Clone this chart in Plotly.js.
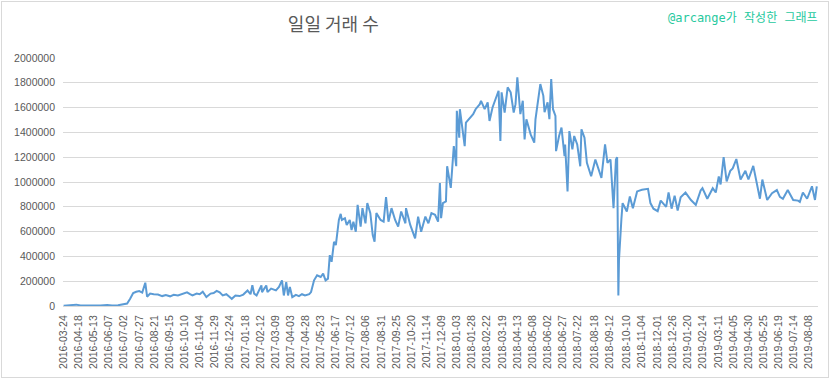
<!DOCTYPE html>
<html>
<head>
<meta charset="utf-8">
<script src="https://cdn.plot.ly/plotly-3.0.1.min.js"></script>
<style>
  html, body { margin: 0; padding: 0; background: #ffffff; }
  #wrap { position: relative; width: 833px; height: 379px; }
  #chart { position: absolute; left: 0; top: 0; width: 833px; height: 379px; }
  #frame { position: absolute; left: 1px; top: 1px; width: 826px; height: 375px; border: 1px solid #d9d9d9; pointer-events: none; }
</style>
</head>
<body>
<div id="wrap"><div id="chart"></div><div id="frame"></div></div>
<script>
// ---- Data ----
const chartTitle = "일일 거래 수";
const creditText = "@arcange가 작성한 그래프";

const tickLabels = [
  "2016-03-24","2016-04-18","2016-05-13","2016-06-07","2016-07-02","2016-07-27","2016-08-21","2016-09-15",
  "2016-10-10","2016-11-04","2016-11-29","2016-12-24","2017-01-18","2017-02-12","2017-03-09","2017-04-03",
  "2017-04-28","2017-05-23","2017-06-17","2017-07-12","2017-08-06","2017-08-31","2017-09-25","2017-10-20",
  "2017-11-14","2017-12-09","2018-01-03","2018-01-28","2018-02-22","2018-03-19","2018-04-13","2018-05-08",
  "2018-06-02","2018-06-27","2018-07-22","2018-08-18","2018-09-12","2018-10-10","2018-11-04","2018-12-01",
  "2018-12-26","2019-01-20","2019-02-14","2019-03-11","2019-04-05","2019-04-30","2019-05-25","2019-06-19",
  "2019-07-14","2019-08-08"
];

const yTicks = [0,200000,400000,600000,800000,1000000,1200000,1400000,1600000,1800000,2000000];

const dates = [
  "2016-03-24","2016-04-01","2016-04-08","2016-04-14","2016-04-21","2016-05-07","2016-05-24","2016-06-04",
  "2016-06-12","2016-06-22","2016-06-30","2016-07-07","2016-07-12","2016-07-17","2016-07-22","2016-07-27",
  "2016-08-01","2016-08-06","2016-08-09","2016-08-14","2016-08-20","2016-08-27","2016-09-03","2016-09-09",
  "2016-09-16","2016-09-22","2016-09-29","2016-10-05","2016-10-14","2016-10-19","2016-10-23","2016-10-30",
  "2016-11-04","2016-11-09","2016-11-15","2016-11-22","2016-11-27","2016-12-02","2016-12-07","2016-12-12",
  "2016-12-18","2016-12-23","2016-12-27","2017-01-02","2017-01-09","2017-01-15","2017-01-22","2017-01-27",
  "2017-01-30","2017-02-02","2017-02-06","2017-02-14","2017-02-15","2017-02-22","2017-02-24","2017-03-02",
  "2017-03-10","2017-03-15","2017-03-20","2017-03-23","2017-03-27","2017-03-30","2017-04-02","2017-04-06",
  "2017-04-12","2017-04-17","2017-04-22","2017-04-27","2017-05-04","2017-05-07","2017-05-12","2017-05-17",
  "2017-05-23","2017-05-27","2017-05-31","2017-06-04","2017-06-07","2017-06-10","2017-06-14","2017-06-17",
  "2017-06-19","2017-06-22","2017-06-25","2017-06-27","2017-07-02","2017-07-05","2017-07-10","2017-07-13",
  "2017-07-16","2017-07-20","2017-07-23","2017-07-28","2017-07-31","2017-08-05","2017-08-08","2017-08-13",
  "2017-08-17","2017-08-20","2017-08-23","2017-08-30","2017-09-04","2017-09-08","2017-09-12","2017-09-17",
  "2017-09-23","2017-09-28","2017-10-03","2017-10-10","2017-10-11","2017-10-18","2017-10-26","2017-10-31",
  "2017-11-05","2017-11-12","2017-11-17","2017-11-22","2017-11-28","2017-12-03","2017-12-06","2017-12-08",
  "2017-12-11","2017-12-16","2017-12-18","2017-12-23","2017-12-24","2017-12-29","2018-01-02","2018-01-03",
  "2018-01-07","2018-01-08","2018-01-13","2018-01-16","2018-01-18","2018-01-25","2018-01-30","2018-02-03",
  "2018-02-10","2018-02-12","2018-02-18","2018-02-23","2018-02-26","2018-03-03","2018-03-08","2018-03-13",
  "2018-03-16","2018-03-18","2018-03-23","2018-03-28","2018-04-02","2018-04-07","2018-04-10","2018-04-13",
  "2018-04-18","2018-04-22","2018-04-25","2018-04-28","2018-05-05","2018-05-11","2018-05-13","2018-05-20",
  "2018-05-21","2018-05-26","2018-05-28","2018-06-02","2018-06-05","2018-06-08","2018-06-11","2018-06-15",
  "2018-06-16","2018-06-21","2018-06-25","2018-06-30","2018-07-01","2018-07-05","2018-07-08","2018-07-13",
  "2018-07-16","2018-07-21","2018-07-26","2018-07-28","2018-08-02","2018-08-06","2018-08-13","2018-08-20",
  "2018-08-25","2018-08-30","2018-09-05","2018-09-09","2018-09-14","2018-09-16","2018-09-19","2018-09-23",
  "2018-09-25","2018-09-27","2018-09-28","2018-10-02","2018-10-04","2018-10-11","2018-10-16","2018-10-21",
  "2018-10-28","2018-11-05","2018-11-15","2018-11-19","2018-11-24","2018-12-01","2018-12-06","2018-12-15",
  "2018-12-19","2018-12-24","2018-12-29","2019-01-03","2019-01-08","2019-01-16","2019-01-25","2019-02-02",
  "2019-02-10","2019-02-13","2019-02-21","2019-03-02","2019-03-07","2019-03-12","2019-03-15","2019-03-20",
  "2019-03-25","2019-03-31","2019-04-04","2019-04-10","2019-04-17","2019-04-25","2019-04-30","2019-05-08",
  "2019-05-15","2019-05-19","2019-05-23","2019-05-31","2019-06-08","2019-06-16","2019-06-21","2019-06-26",
  "2019-07-04","2019-07-13","2019-07-21","2019-07-24","2019-07-29","2019-08-05","2019-08-13","2019-08-18",
  "2019-08-21"
];

const counts = [
  3000,6000,12000,11000,4000,3000,4000,8000,
  4000,6000,12000,20000,58000,104000,115000,120000,
  108000,188000,75000,100000,95000,92000,80000,88000,
  78000,90000,85000,95000,110000,95000,85000,100000,
  95000,115000,72000,100000,105000,122000,110000,85000,
  95000,75000,58000,85000,80000,92000,125000,95000,
  168000,100000,85000,166000,112000,166000,112000,140000,
  126000,153000,207000,85000,193000,85000,153000,71000,
  90000,80000,95000,85000,95000,112000,207000,248000,
  234000,261000,207000,221000,410000,356000,518000,491000,
  572000,694000,743000,694000,708000,654000,694000,613000,
  680000,599000,816000,640000,789000,667000,830000,749000,
  572000,518000,749000,694000,680000,878000,680000,789000,
  694000,640000,762000,667000,789000,654000,546000,721000,
  599000,721000,667000,749000,735000,680000,992000,708000,
  830000,843000,1127000,992000,952000,1289000,1127000,1574000,
  1358000,1587000,1371000,1289000,1479000,1520000,1547000,1587000,
  1628000,1655000,1587000,1642000,1492000,1601000,1669000,1736000,
  1330000,1723000,1560000,1763000,1723000,1560000,1628000,1845000,
  1547000,1655000,1344000,1506000,1384000,1317000,1506000,1750000,
  1790000,1695000,1563000,1642000,1506000,1831000,1587000,1533000,
  1249000,1371000,1439000,1208000,1303000,924000,1411000,1263000,
  1371000,1303000,1127000,1425000,1358000,1155000,1046000,1181000,
  1100000,1033000,1303000,1155000,1181000,1019000,789000,1181000,
  1200000,85000,370000,700000,830000,762000,883000,789000,
  924000,938000,945000,830000,785000,765000,850000,800000,
  915000,785000,890000,770000,877000,915000,855000,815000,
  932000,950000,865000,950000,915000,1045000,980000,1200000,
  1005000,1090000,1110000,1185000,1020000,1090000,1020000,1130000,
  965000,865000,1020000,855000,910000,935000,880000,865000,
  935000,855000,850000,840000,915000,865000,965000,855000,
  965000
];

// ---- Chart ----
const axisFont = { family: "Liberation Sans, Arial, sans-serif", size: 10.5, color: "#595959" };

const trace = {
  type: "scatter",
  mode: "lines",
  x: dates,
  y: counts,
  line: { color: "#5b9bd5", width: 2 },
  hoverinfo: "skip"
};

const layout = {
  width: 833,
  height: 379,
  margin: { l: 63, r: 15, t: 58, b: 73, pad: 0 },
  paper_bgcolor: "#ffffff",
  plot_bgcolor: "#ffffff",
  showlegend: false,
  title: {
    text: chartTitle,
    font: { family: "Noto Sans CJK KR, Noto Sans, sans-serif", size: 18, color: "#595959" },
    xref: "paper", x: 0.358, xanchor: "center",
    yref: "container", y: 0.934, yanchor: "middle"
  },
  xaxis: {
    type: "date",
    range: ["2016-03-23", "2019-08-23"],
    tickmode: "array",
    tickvals: tickLabels,
    ticktext: tickLabels,
    tickangle: -90,
    tickfont: axisFont,
    ticks: "",
    ticklabelstandoff: 4,
    showgrid: false,
    zeroline: false,
    showline: true,
    linecolor: "#d9d9d9",
    linewidth: 1,
    automargin: false,
    fixedrange: true
  },
  yaxis: {
    range: [0, 2000000],
    tickmode: "array",
    tickvals: yTicks,
    ticktext: yTicks.map(String),
    tickfont: axisFont,
    ticks: "",
    ticklabelstandoff: 7,
    showgrid: true,
    gridcolor: "#d9d9d9",
    gridwidth: 1,
    zeroline: false,
    showline: false,
    automargin: false,
    fixedrange: true
  },
  annotations: [{
    text: creditText,
    xref: "paper", yref: "paper",
    x: 1.003, y: 1.161,
    xanchor: "right", yanchor: "middle",
    showarrow: false,
    font: { family: "DejaVu Sans Mono, Noto Sans CJK KR, monospace", size: 12, color: "#26c99e" }
  }]
};

Plotly.newPlot("chart", [trace], layout, { staticPlot: true, displayModeBar: false });
</script>
</body>
</html>
